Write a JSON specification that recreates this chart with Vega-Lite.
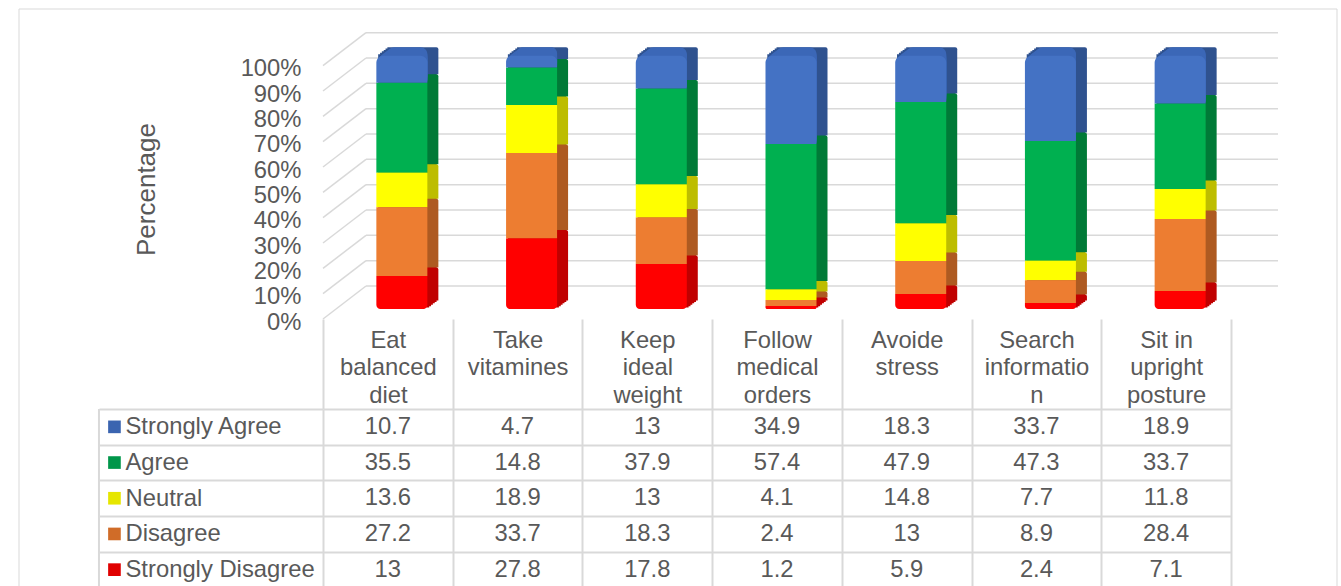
{
  "$schema": "https://vega.github.io/schema/vega-lite/v6.json",
  "background": "#FFFFFF",
  "padding": {"left": 18, "top": 8, "right": 4, "bottom": 0},
  "config": {"font": "Liberation Sans", "view": {"stroke": null}, "axis": {"labelOverlap": false}},
  "datasets": {
    "survey": [
      {"category": "Eat balanced diet", "response": "Strongly Agree", "value": 10.7},
      {"category": "Eat balanced diet", "response": "Agree", "value": 35.5},
      {"category": "Eat balanced diet", "response": "Neutral", "value": 13.6},
      {"category": "Eat balanced diet", "response": "Disagree", "value": 27.2},
      {"category": "Eat balanced diet", "response": "Strongly Disagree", "value": 13},
      {"category": "Take vitamines", "response": "Strongly Agree", "value": 4.7},
      {"category": "Take vitamines", "response": "Agree", "value": 14.8},
      {"category": "Take vitamines", "response": "Neutral", "value": 18.9},
      {"category": "Take vitamines", "response": "Disagree", "value": 33.7},
      {"category": "Take vitamines", "response": "Strongly Disagree", "value": 27.8},
      {"category": "Keep ideal weight", "response": "Strongly Agree", "value": 13},
      {"category": "Keep ideal weight", "response": "Agree", "value": 37.9},
      {"category": "Keep ideal weight", "response": "Neutral", "value": 13},
      {"category": "Keep ideal weight", "response": "Disagree", "value": 18.3},
      {"category": "Keep ideal weight", "response": "Strongly Disagree", "value": 17.8},
      {"category": "Follow medical orders", "response": "Strongly Agree", "value": 34.9},
      {"category": "Follow medical orders", "response": "Agree", "value": 57.4},
      {"category": "Follow medical orders", "response": "Neutral", "value": 4.1},
      {"category": "Follow medical orders", "response": "Disagree", "value": 2.4},
      {"category": "Follow medical orders", "response": "Strongly Disagree", "value": 1.2},
      {"category": "Avoide stress", "response": "Strongly Agree", "value": 18.3},
      {"category": "Avoide stress", "response": "Agree", "value": 47.9},
      {"category": "Avoide stress", "response": "Neutral", "value": 14.8},
      {"category": "Avoide stress", "response": "Disagree", "value": 13},
      {"category": "Avoide stress", "response": "Strongly Disagree", "value": 5.9},
      {"category": "Search information", "response": "Strongly Agree", "value": 33.7},
      {"category": "Search information", "response": "Agree", "value": 47.3},
      {"category": "Search information", "response": "Neutral", "value": 7.7},
      {"category": "Search information", "response": "Disagree", "value": 8.9},
      {"category": "Search information", "response": "Strongly Disagree", "value": 2.4},
      {"category": "Sit in upright posture", "response": "Strongly Agree", "value": 18.9},
      {"category": "Sit in upright posture", "response": "Agree", "value": 33.7},
      {"category": "Sit in upright posture", "response": "Neutral", "value": 11.8},
      {"category": "Sit in upright posture", "response": "Disagree", "value": 28.4},
      {"category": "Sit in upright posture", "response": "Strongly Disagree", "value": 7.1}
    ],
    "ticks": [
      {"t": 0}, {"t": 0.1}, {"t": 0.2}, {"t": 0.3}, {"t": 0.4}, {"t": 0.5},
      {"t": 0.6}, {"t": 0.7}, {"t": 0.8}, {"t": 0.9}, {"t": 1}
    ]
  },
  "spacing": 90,
  "bounds": "flush",
  "resolve": {"scale": {"color": "independent"}},
  "vconcat": [
    {
      "width": 908,
      "height": 304,
      "resolve": {"scale": {"color": "independent"}},
      "layer": [
        {
          "data": {"values": [{}]},
          "mark": {"type": "rect", "fill": "transparent", "stroke": "#D9D9D9", "strokeWidth": 1, "xOffset": -304, "x2Offset": 106, "yOffset": -6, "y2Offset": 290},
          "encoding": {
            "x": {"datum": "Eat balanced diet", "type": "nominal", "bandPosition": 0, "scale": {"domain": ["Eat balanced diet", "Take vitamines", "Keep ideal weight", "Follow medical orders", "Avoide stress", "Search information", "Sit in upright posture"], "paddingInner": 0, "paddingOuter": 0}, "axis": null},
            "x2": {"datum": "Sit in upright posture", "bandPosition": 1},
            "y": {
              "datum": 1.2, "type": "quantitative",
              "scale": {"domain": [0, 1.2], "nice": false, "zero": true},
              "axis": {
                "values": [0, 0.1, 0.2, 0.3, 0.4, 0.5, 0.6, 0.7, 0.8, 0.9, 1],
                "format": ".0%", "title": "Percentage", "domain": false, "ticks": false, "tickSize": 0, "grid": false,
                "labelPadding": 22, "labelFontSize": 23.8, "labelColor": "#595959", "labelOffset": 3, "labelOverlap": false,
                "titleFontSize": 26, "titleFontWeight": "normal", "titleColor": "#595959",
                "titleX": -177, "titleY": 174, "titleBaseline": "middle", "titleAngle": 270
              }
            },
            "y2": {"datum": 0}
          }
        },
        {
          "data": {"name": "ticks"},
          "mark": {"type": "rule", "color": "#D9D9D9", "strokeWidth": 1.5, "x2Offset": 43, "y2Offset": -33},
          "encoding": {
            "x": {"datum": "Eat balanced diet", "type": "nominal", "bandPosition": 0, "scale": {"domain": ["Eat balanced diet", "Take vitamines", "Keep ideal weight", "Follow medical orders", "Avoide stress", "Search information", "Sit in upright posture"], "paddingInner": 0, "paddingOuter": 0}, "axis": null},
            "x2": {"datum": "Eat balanced diet", "bandPosition": 0},
            "y": {
              "field": "t", "type": "quantitative",
              "scale": {"domain": [0, 1.2], "nice": false, "zero": true},
              "axis": {
                "values": [0, 0.1, 0.2, 0.3, 0.4, 0.5, 0.6, 0.7, 0.8, 0.9, 1],
                "format": ".0%", "title": "Percentage", "domain": false, "ticks": false, "tickSize": 0, "grid": false,
                "labelPadding": 22, "labelFontSize": 23.8, "labelColor": "#595959", "labelOffset": 3, "labelOverlap": false,
                "titleFontSize": 26, "titleFontWeight": "normal", "titleColor": "#595959",
                "titleX": -177, "titleY": 174, "titleBaseline": "middle", "titleAngle": 270
              }
            },
            "y2": {"field": "t"}
          }
        },
        {
          "data": {"name": "ticks"},
          "mark": {"type": "rule", "color": "#D9D9D9", "strokeWidth": 1.5, "xOffset": 43, "x2Offset": 47, "yOffset": -33},
          "encoding": {
            "x": {"datum": "Eat balanced diet", "type": "nominal", "bandPosition": 0, "scale": {"domain": ["Eat balanced diet", "Take vitamines", "Keep ideal weight", "Follow medical orders", "Avoide stress", "Search information", "Sit in upright posture"], "paddingInner": 0, "paddingOuter": 0}, "axis": null},
            "x2": {"datum": "Sit in upright posture", "bandPosition": 1},
            "y": {
              "field": "t", "type": "quantitative",
              "scale": {"domain": [0, 1.2], "nice": false, "zero": true},
              "axis": {
                "values": [0, 0.1, 0.2, 0.3, 0.4, 0.5, 0.6, 0.7, 0.8, 0.9, 1],
                "format": ".0%", "title": "Percentage", "domain": false, "ticks": false, "tickSize": 0, "grid": false,
                "labelPadding": 22, "labelFontSize": 23.8, "labelColor": "#595959", "labelOffset": 3, "labelOverlap": false,
                "titleFontSize": 26, "titleFontWeight": "normal", "titleColor": "#595959",
                "titleX": -177, "titleY": 174, "titleBaseline": "middle", "titleAngle": 270
              }
            }
          }
        },
        {
          "data": {"name": "survey"},
          "transform": [
            {"calculate": "indexof(['Strongly Disagree', 'Disagree', 'Neutral', 'Agree', 'Strongly Agree'], datum.response)", "as": "rank"},
            {"stack": "value", "groupby": ["category"], "sort": [{"field": "rank", "order": "ascending"}], "offset": "normalize", "as": ["lo", "hi"]}
          ],
          "resolve": {"scale": {"color": "independent"}},
          "encoding": {
            "x": {"field": "category", "type": "nominal", "scale": {"domain": ["Eat balanced diet", "Take vitamines", "Keep ideal weight", "Follow medical orders", "Avoide stress", "Search information", "Sit in upright posture"], "paddingInner": 0, "paddingOuter": 0}, "axis": null},
            "y": {
              "field": "lo", "type": "quantitative",
              "scale": {"domain": [0, 1.2], "nice": false, "zero": true},
              "axis": {
                "values": [0, 0.1, 0.2, 0.3, 0.4, 0.5, 0.6, 0.7, 0.8, 0.9, 1],
                "format": ".0%", "title": "Percentage", "domain": false, "ticks": false, "tickSize": 0, "grid": false,
                "labelPadding": 22, "labelFontSize": 23.8, "labelColor": "#595959", "labelOffset": 3, "labelOverlap": false,
                "titleFontSize": 26, "titleFontWeight": "normal", "titleColor": "#595959",
                "titleX": -177, "titleY": 174, "titleBaseline": "middle", "titleAngle": 270
              }
            },
            "y2": {"field": "hi"}
          },
          "layer": [
            {
              "mark": {"type": "bar", "width": 51, "xOffset": 15.8, "yOffset": -11.4, "y2Offset": -11.4},
              "encoding": {"color": {"field": "response", "type": "nominal", "scale": {"domain": ["Strongly Agree", "Agree", "Neutral", "Disagree", "Strongly Disagree"], "range": ["#2F528F", "#007A37", "#BDBD00", "#AE5A21", "#C00000"]}, "legend": null}}
            },
            {
              "mark": {"type": "bar", "width": 51, "xOffset": 17.7, "yOffset": -12.85, "y2Offset": -12.85},
              "encoding": {"color": {"field": "response", "type": "nominal", "scale": {"domain": ["Strongly Agree", "Agree", "Neutral", "Disagree", "Strongly Disagree"], "range": ["#2F528F", "#007A37", "#BDBD00", "#AE5A21", "#C00000"]}, "legend": null}}
            },
            {
              "mark": {"type": "bar", "width": 51, "xOffset": 19.5, "yOffset": -14.3, "y2Offset": -14.3},
              "encoding": {"color": {"field": "response", "type": "nominal", "scale": {"domain": ["Strongly Agree", "Agree", "Neutral", "Disagree", "Strongly Disagree"], "range": ["#2F528F", "#007A37", "#BDBD00", "#AE5A21", "#C00000"]}, "legend": null}}
            },
            {
              "mark": {"type": "bar", "width": 51, "xOffset": 21.4, "yOffset": -15.7, "y2Offset": -15.7},
              "encoding": {"color": {"field": "response", "type": "nominal", "scale": {"domain": ["Strongly Agree", "Agree", "Neutral", "Disagree", "Strongly Disagree"], "range": ["#2F528F", "#007A37", "#BDBD00", "#AE5A21", "#C00000"]}, "legend": null}}
            },
            {
              "mark": {"type": "bar", "width": 51, "xOffset": 23.2, "yOffset": -17.1, "y2Offset": -17.1},
              "encoding": {"color": {"field": "response", "type": "nominal", "scale": {"domain": ["Strongly Agree", "Agree", "Neutral", "Disagree", "Strongly Disagree"], "range": ["#2F528F", "#007A37", "#BDBD00", "#AE5A21", "#C00000"]}, "legend": null}}
            },
            {
              "mark": {"type": "bar", "width": 51, "xOffset": 25, "yOffset": -18.5, "y2Offset": -18.5, "cornerRadiusTopRight": 2},
              "encoding": {"color": {"field": "response", "type": "nominal", "scale": {"domain": ["Strongly Agree", "Agree", "Neutral", "Disagree", "Strongly Disagree"], "range": ["#2F528F", "#007A37", "#BDBD00", "#AE5A21", "#C00000"]}, "legend": null}}
            },
            {
              "transform": [{"filter": "datum.response == 'Strongly Agree'"}],
              "mark": {"type": "bar", "width": 49.2, "xOffset": 14.9, "yOffset": -11.4, "y2Offset": -11.4, "color": "#3B67B7", "cornerRadiusTopLeft": 7, "cornerRadiusTopRight": 7}
            },
            {
              "transform": [{"filter": "datum.response == 'Strongly Agree'"}],
              "mark": {"type": "bar", "width": 47.3, "xOffset": 15.85, "yOffset": -12.85, "y2Offset": -12.85, "color": "#3B67B7", "cornerRadiusTopLeft": 7, "cornerRadiusTopRight": 7}
            },
            {
              "transform": [{"filter": "datum.response == 'Strongly Agree'"}],
              "mark": {"type": "bar", "width": 45.5, "xOffset": 16.75, "yOffset": -14.3, "y2Offset": -14.3, "color": "#3B67B7", "cornerRadiusTopLeft": 7, "cornerRadiusTopRight": 7}
            },
            {
              "transform": [{"filter": "datum.response == 'Strongly Agree'"}],
              "mark": {"type": "bar", "width": 43.6, "xOffset": 17.7, "yOffset": -15.7, "y2Offset": -15.7, "color": "#3B67B7", "cornerRadiusTopLeft": 7, "cornerRadiusTopRight": 7}
            },
            {
              "transform": [{"filter": "datum.response == 'Strongly Agree'"}],
              "mark": {"type": "bar", "width": 41.8, "xOffset": 18.6, "yOffset": -17.1, "y2Offset": -17.1, "color": "#3B67B7", "cornerRadiusTopLeft": 7, "cornerRadiusTopRight": 7}
            },
            {
              "transform": [{"filter": "datum.response == 'Strongly Agree'"}],
              "mark": {"type": "bar", "width": 40, "xOffset": 19.5, "yOffset": -18.5, "y2Offset": -18.5, "color": "#3B67B7", "cornerRadiusTopLeft": 7, "cornerRadiusTopRight": 7}
            },
            {
              "transform": [{"filter": "datum.response != 'Strongly Agree' && datum.response != 'Strongly Disagree'"}],
              "mark": {"type": "bar", "width": 51, "xOffset": 14, "yOffset": -10, "y2Offset": -10},
              "encoding": {"color": {"field": "response", "type": "nominal", "scale": {"domain": ["Strongly Agree", "Agree", "Neutral", "Disagree", "Strongly Disagree"], "range": ["#4472C4", "#00B050", "#FFFF00", "#ED7D31", "#FF0000"]}, "legend": null}}
            },
            {
              "transform": [{"filter": "datum.response == 'Strongly Disagree'"}],
              "mark": {"type": "bar", "width": 51, "xOffset": 14, "yOffset": -10, "y2Offset": -10, "color": "#FF0000", "cornerRadiusBottomLeft": 4, "cornerRadiusBottomRight": 4}
            },
            {
              "transform": [{"filter": "datum.response == 'Strongly Agree'"}],
              "mark": {"type": "bar", "width": 51, "xOffset": 14, "yOffset": -10, "y2Offset": -10, "color": "#4472C4", "cornerRadiusTopLeft": 7, "cornerRadiusTopRight": 7}
            }
          ]
        }
      ]
    },
    {
      "width": 908,
      "height": 178.5,
      "resolve": {"scale": {"color": "independent"}},
      "layer": [
        {
          "data": {"values": [{}]},
          "mark": {"type": "rule", "color": "#D9D9D9", "strokeWidth": 2, "xOffset": -288.9},
          "encoding": {
            "x": {"datum": "Eat balanced diet", "type": "nominal", "scale": {"domain": ["Eat balanced diet", "Take vitamines", "Keep ideal weight", "Follow medical orders", "Avoide stress", "Search information", "Sit in upright posture"], "paddingInner": 0, "paddingOuter": 0}}
          }
        },
        {
          "data": {"name": "survey"},
          "transform": [{"filter": "datum.category == 'Eat balanced diet'"}],
          "mark": {"type": "square", "size": 160, "opacity": 1, "xOffset": -273.4},
          "encoding": {
            "x": {"field": "category", "type": "nominal", "scale": {"domain": ["Eat balanced diet", "Take vitamines", "Keep ideal weight", "Follow medical orders", "Avoide stress", "Search information", "Sit in upright posture"], "paddingInner": 0, "paddingOuter": 0}},
            "y": {"field": "response", "type": "nominal", "scale": {"domain": ["Strongly Agree", "Agree", "Neutral", "Disagree", "Strongly Disagree"], "paddingInner": 0, "paddingOuter": 0}},
            "color": {"field": "response", "type": "nominal", "scale": {"domain": ["Strongly Agree", "Agree", "Neutral", "Disagree", "Strongly Disagree"], "range": ["#3A64B0", "#00964A", "#E6E600", "#D06C28", "#E00000"]}, "legend": null}
          }
        },
        {
          "data": {"name": "survey"},
          "mark": {"type": "text", "fontSize": 23.8, "color": "#595959"},
          "encoding": {
            "x": {
              "field": "category", "type": "nominal",
              "scale": {"domain": ["Eat balanced diet", "Take vitamines", "Keep ideal weight", "Follow medical orders", "Avoide stress", "Search information", "Sit in upright posture"], "paddingInner": 0, "paddingOuter": 0},
              "axis": {
                "orient": "top", "title": null, "domain": false,
                "tickBand": "extent", "tickSize": 90, "tickColor": "#D9D9D9", "tickWidth": 2,
                "grid": true, "gridColor": "#D9D9D9", "gridWidth": 2,
                "labelAngle": 0, "labelAlign": "center", "labelBaseline": "top", "labelPadding": -9, "labelFontSize": 23.8, "labelColor": "#595959",
                "labelLineHeight": 27.5, "labelOverlap": false, "labelLimit": 200,
                "labelExpr": "datum.value == null ? '' : datum.value == 'Search information' ? ['Search', 'informatio', 'n'] : datum.value == 'Sit in upright posture' ? ['Sit in', 'upright', 'posture'] : split(datum.value, ' ')"
              }
            },
            "y": {
              "field": "response", "type": "nominal",
              "scale": {"domain": ["Strongly Agree", "Agree", "Neutral", "Disagree", "Strongly Disagree"], "paddingInner": 0, "paddingOuter": 0},
              "axis": {
                "orient": "left", "title": null, "domain": false,
                "tickBand": "extent", "tickSize": 224, "tickColor": "#D9D9D9", "tickWidth": 2,
                "grid": true, "gridColor": "#D9D9D9", "gridWidth": 2,
                "labelAlign": "left", "labelBaseline": "middle", "labelPadding": -26, "labelFontSize": 23.8, "labelColor": "#595959",
                "labelLimit": 300, "labelOverlap": false,
                "labelExpr": "datum.value == null ? '' : datum.label"
              }
            },
            "text": {"field": "value", "type": "nominal"}
          }
        }
      ]
    }
  ]
}
